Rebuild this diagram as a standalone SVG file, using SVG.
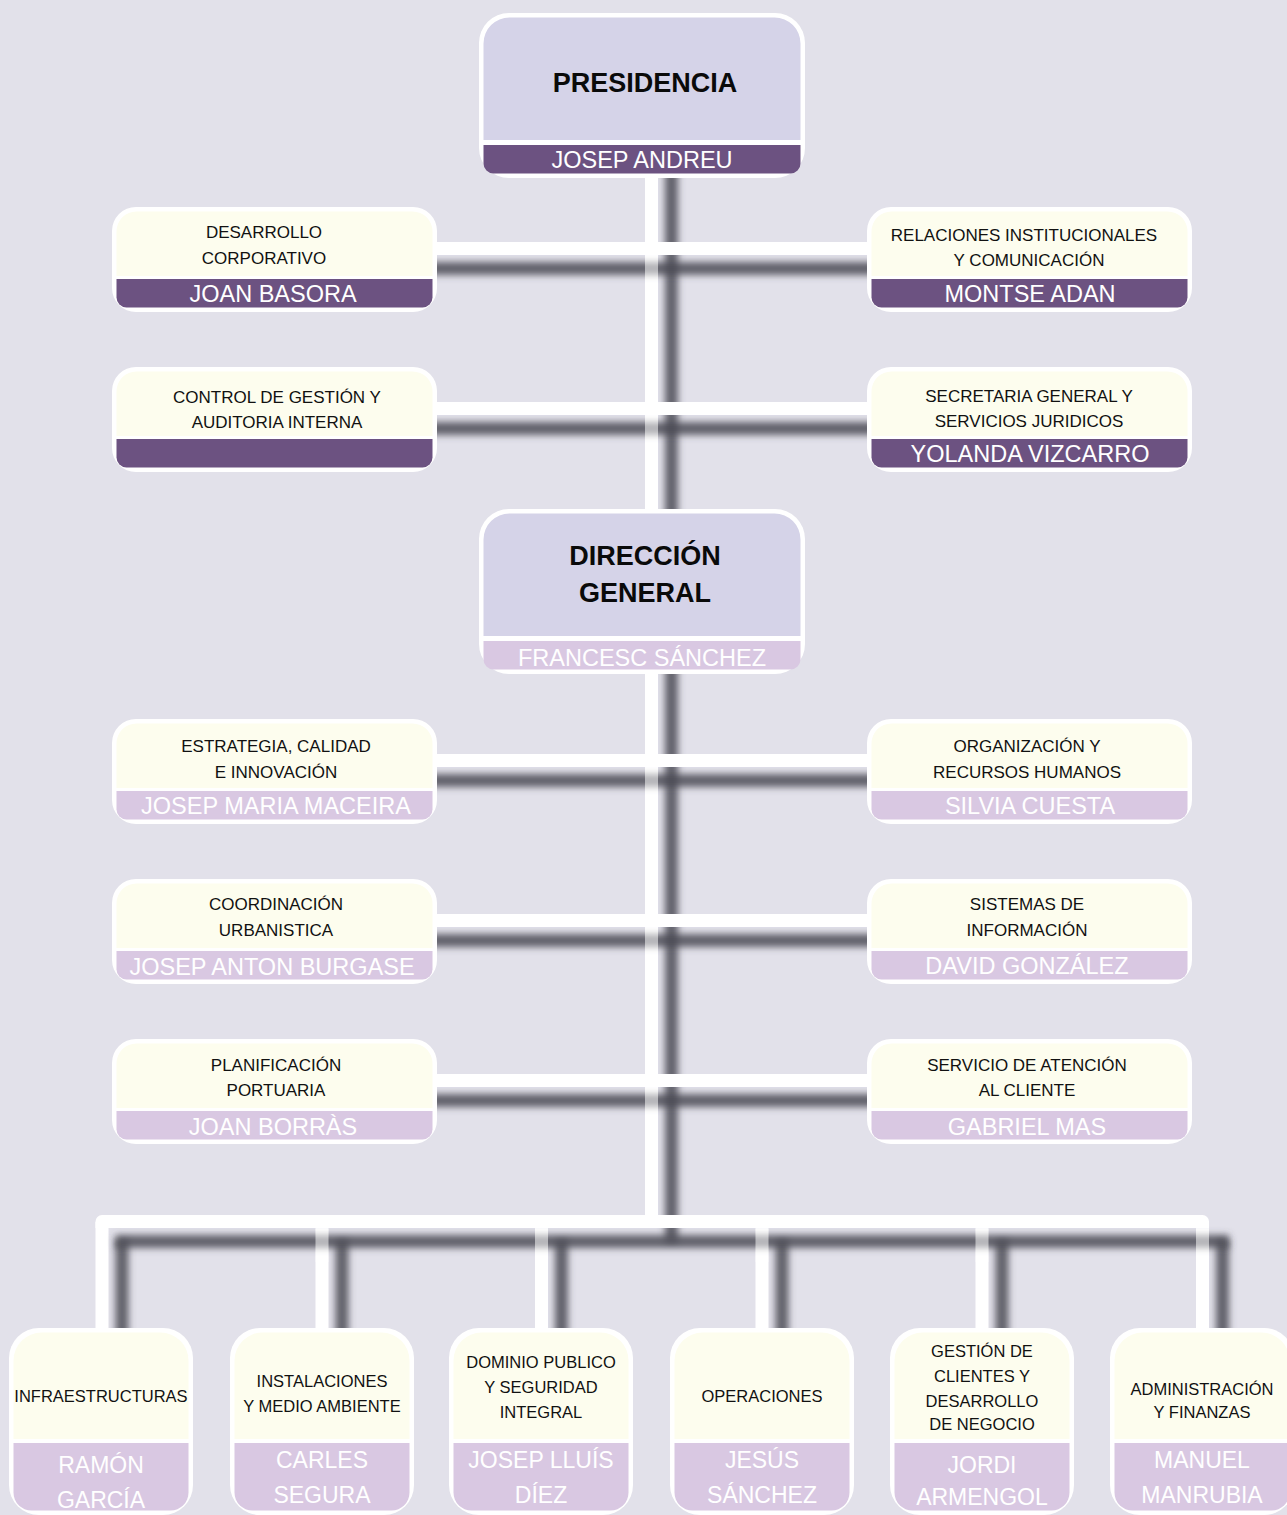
<svg xmlns="http://www.w3.org/2000/svg" width="1287" height="1515" viewBox="0 0 1287 1515">
<style>
text{font-family:"Liberation Sans",Arial,sans-serif;text-anchor:middle}
.l{font-size:17px;fill:#111}
.t{font-size:27px;font-weight:bold;fill:#0a0a0a}
.n{font-size:23.5px;fill:#fff}
.bl{font-size:16.5px;fill:#111}
.bn{font-size:23px;fill:#fff}
.sh{fill:none;stroke:#4a4a53;stroke-opacity:0.85;stroke-width:13;filter:url(#blur)}
.w{fill:none;stroke:#fff;stroke-width:13;stroke-linejoin:round}
.wh{fill:none;stroke:#fff;stroke-width:13;stroke-opacity:0.5}
.top{fill:#d5d3e8}
.cream{fill:#fdfdee}
.dark{fill:#6c5281}
.light{fill:#d9c8e2}
.frame{fill:#fff}
</style>
<defs>
<filter id="blur" filterUnits="userSpaceOnUse" x="0" y="0" width="1287" height="1515"><feGaussianBlur stdDeviation="3.5"/></filter>
<rect id="so" width="325" height="105" rx="24"/>
<path id="st" d="M4.5,69 V24.5 A20,20 0 0 1 24.5,4.5 H300.5 A20,20 0 0 1 320.5,24.5 V69 Z"/>
<path id="sb" d="M4.5,72 H320.5 V90.5 A10,10 0 0 1 310.5,100.5 H14.5 A10,10 0 0 1 4.5,90.5 Z"/>
<rect id="to" width="326" height="165" rx="30"/>
<path id="tt" d="M4.5,127 V30.5 A26,26 0 0 1 30.5,4.5 H295.5 A26,26 0 0 1 321.5,30.5 V127 Z"/>
<path id="tb" d="M4.5,132 H321.5 V150.5 A10,10 0 0 1 311.5,160.5 H14.5 A10,10 0 0 1 4.5,150.5 Z"/>
<rect id="bo" width="184" height="187" rx="30"/>
<path id="bt" d="M4.5,111 V32.5 A28,28 0 0 1 32.5,4.5 H151.5 A28,28 0 0 1 179.5,32.5 V111 Z"/>
<path id="bb" d="M4.5,115 H179.5 V164.5 A18,18 0 0 1 161.5,182.5 H22.5 A18,18 0 0 1 4.5,164.5 Z"/>
</defs>
<rect width="1287" height="1515" fill="#e2e1ea"/>
<g id="connectors">
<path class="sh" d="M671.5,170 V1242"/>
<path class="w" d="M651.5,170 V1222"/>
<path class="sh" d="M420,268.5 H887 M420,428.5 H887 M420,780.5 H887 M420,940.5 H887 M420,1100.5 H887"/>
<path class="wh" d="M651.5,240 V1222"/>
<path class="w" d="M436,248.5 H867 M436,408.5 H867 M436,760.5 H867 M436,920.5 H867 M436,1080.5 H867"/>
<path class="sh" d="M122,1240 V1340 M342,1240 V1340 M561.5,1240 V1340 M782,1240 V1340 M1002,1240 V1340 M1222.5,1240 V1340"/>
<path class="w" d="M102,1222 V1332 M322,1222 V1332 M541.5,1222 V1332 M762,1222 V1332 M982,1222 V1332 M1202.5,1222 V1332"/>
<path class="sh" d="M122,1248 V1241.5 H1222.5 V1248"/>
<path class="wh" d="M322,1229 V1262 M541.5,1229 V1262 M762,1229 V1262 M982,1229 V1262 M1202.5,1229 V1262"/>
<path class="w" d="M102,1228 V1221.5 H1202.5 V1228"/>
</g>
<g id="presidencia">
<use href="#to" x="479" y="13" class="frame"/>
<use href="#tt" x="479" y="13" class="top"/>
<use href="#tb" x="479" y="13" class="dark"/>
<text class="t" x="645" y="92">PRESIDENCIA</text>
<text class="n" x="642" y="168">JOSEP ANDREU</text>
</g>
<g id="desarrollo-corporativo">
<use href="#so" x="112" y="207" class="frame"/>
<use href="#st" x="112" y="207" class="cream"/>
<use href="#sb" x="112" y="207" class="dark"/>
<text class="l" x="264" y="238">DESARROLLO</text>
<text class="l" x="264" y="264">CORPORATIVO</text>
<text class="n" x="273" y="302">JOAN BASORA</text>
</g>
<g id="relaciones-institucionales">
<use href="#so" x="867" y="207" class="frame"/>
<use href="#st" x="867" y="207" class="cream"/>
<use href="#sb" x="867" y="207" class="dark"/>
<text class="l" x="1024" y="241">RELACIONES INSTITUCIONALES</text>
<text class="l" x="1029" y="266">Y COMUNICACIÓN</text>
<text class="n" x="1030" y="302">MONTSE ADAN</text>
</g>
<g id="control-gestion">
<use href="#so" x="112" y="367" class="frame"/>
<use href="#st" x="112" y="367" class="cream"/>
<use href="#sb" x="112" y="367" class="dark"/>
<text class="l" x="277" y="403">CONTROL DE GESTIÓN Y</text>
<text class="l" x="277" y="428">AUDITORIA INTERNA</text>
</g>
<g id="secretaria-general">
<use href="#so" x="867" y="367" class="frame"/>
<use href="#st" x="867" y="367" class="cream"/>
<use href="#sb" x="867" y="367" class="dark"/>
<text class="l" x="1029" y="402">SECRETARIA GENERAL Y</text>
<text class="l" x="1029" y="427">SERVICIOS JURIDICOS</text>
<text class="n" x="1030" y="462">YOLANDA VIZCARRO</text>
</g>
<g id="direccion-general">
<use href="#to" x="479" y="509" class="frame"/>
<use href="#tt" x="479" y="509" class="top"/>
<use href="#tb" x="479" y="509" class="light"/>
<text class="t" x="645" y="565">DIRECCIÓN</text>
<text class="t" x="645" y="602">GENERAL</text>
<text class="n" x="642" y="666">FRANCESC SÁNCHEZ</text>
</g>
<g id="estrategia">
<use href="#so" x="112" y="719" class="frame"/>
<use href="#st" x="112" y="719" class="cream"/>
<use href="#sb" x="112" y="719" class="light"/>
<text class="l" x="276" y="752">ESTRATEGIA, CALIDAD</text>
<text class="l" x="276" y="778">E INNOVACIÓN</text>
<text class="n" x="276" y="814">JOSEP MARIA MACEIRA</text>
</g>
<g id="organizacion">
<use href="#so" x="867" y="719" class="frame"/>
<use href="#st" x="867" y="719" class="cream"/>
<use href="#sb" x="867" y="719" class="light"/>
<text class="l" x="1027" y="752">ORGANIZACIÓN Y</text>
<text class="l" x="1027" y="778">RECURSOS HUMANOS</text>
<text class="n" x="1030" y="814">SILVIA CUESTA</text>
</g>
<g id="coordinacion">
<use href="#so" x="112" y="879" class="frame"/>
<use href="#st" x="112" y="879" class="cream"/>
<use href="#sb" x="112" y="879" class="light"/>
<text class="l" x="276" y="910">COORDINACIÓN</text>
<text class="l" x="276" y="936">URBANISTICA</text>
<text class="n" x="272" y="975">JOSEP ANTON BURGASE</text>
</g>
<g id="sistemas">
<use href="#so" x="867" y="879" class="frame"/>
<use href="#st" x="867" y="879" class="cream"/>
<use href="#sb" x="867" y="879" class="light"/>
<text class="l" x="1027" y="910">SISTEMAS DE</text>
<text class="l" x="1027" y="936">INFORMACIÓN</text>
<text class="n" x="1027" y="974">DAVID GONZÁLEZ</text>
</g>
<g id="planificacion">
<use href="#so" x="112" y="1039" class="frame"/>
<use href="#st" x="112" y="1039" class="cream"/>
<use href="#sb" x="112" y="1039" class="light"/>
<text class="l" x="276" y="1071">PLANIFICACIÓN</text>
<text class="l" x="276" y="1096">PORTUARIA</text>
<text class="n" x="273" y="1135">JOAN BORRÀS</text>
</g>
<g id="servicio-atencion">
<use href="#so" x="867" y="1039" class="frame"/>
<use href="#st" x="867" y="1039" class="cream"/>
<use href="#sb" x="867" y="1039" class="light"/>
<text class="l" x="1027" y="1071">SERVICIO DE ATENCIÓN</text>
<text class="l" x="1027" y="1096">AL CLIENTE</text>
<text class="n" x="1027" y="1135">GABRIEL MAS</text>
</g>
<g id="infraestructuras">
<use href="#bo" x="9" y="1328" class="frame"/>
<use href="#bt" x="9" y="1328" class="cream"/>
<use href="#bb" x="9" y="1328" class="light"/>
<text class="bl" x="101" y="1402">INFRAESTRUCTURAS</text>
<text class="bn" x="101" y="1473">RAMÓN</text>
<text class="bn" x="101" y="1508">GARCÍA</text>
</g>
<g id="instalaciones">
<use href="#bo" x="230" y="1328" class="frame"/>
<use href="#bt" x="230" y="1328" class="cream"/>
<use href="#bb" x="230" y="1328" class="light"/>
<text class="bl" x="322" y="1387">INSTALACIONES</text>
<text class="bl" x="322" y="1412">Y MEDIO AMBIENTE</text>
<text class="bn" x="322" y="1468">CARLES</text>
<text class="bn" x="322" y="1503">SEGURA</text>
</g>
<g id="dominio-publico">
<use href="#bo" x="449" y="1328" class="frame"/>
<use href="#bt" x="449" y="1328" class="cream"/>
<use href="#bb" x="449" y="1328" class="light"/>
<text class="bl" x="541" y="1368">DOMINIO PUBLICO</text>
<text class="bl" x="541" y="1393">Y SEGURIDAD</text>
<text class="bl" x="541" y="1418">INTEGRAL</text>
<text class="bn" x="541" y="1468">JOSEP LLUÍS</text>
<text class="bn" x="541" y="1503">DÍEZ</text>
</g>
<g id="operaciones">
<use href="#bo" x="670" y="1328" class="frame"/>
<use href="#bt" x="670" y="1328" class="cream"/>
<use href="#bb" x="670" y="1328" class="light"/>
<text class="bl" x="762" y="1402">OPERACIONES</text>
<text class="bn" x="762" y="1468">JESÚS</text>
<text class="bn" x="762" y="1503">SÁNCHEZ</text>
</g>
<g id="gestion-clientes">
<use href="#bo" x="890" y="1328" class="frame"/>
<use href="#bt" x="890" y="1328" class="cream"/>
<use href="#bb" x="890" y="1328" class="light"/>
<text class="bl" x="982" y="1357">GESTIÓN DE</text>
<text class="bl" x="982" y="1382">CLIENTES Y</text>
<text class="bl" x="982" y="1407">DESARROLLO</text>
<text class="bl" x="982" y="1430">DE NEGOCIO</text>
<text class="bn" x="982" y="1473">JORDI</text>
<text class="bn" x="982" y="1505">ARMENGOL</text>
</g>
<g id="administracion">
<use href="#bo" x="1110" y="1328" class="frame"/>
<use href="#bt" x="1110" y="1328" class="cream"/>
<use href="#bb" x="1110" y="1328" class="light"/>
<text class="bl" x="1202" y="1395">ADMINISTRACIÓN</text>
<text class="bl" x="1202" y="1418">Y FINANZAS</text>
<text class="bn" x="1202" y="1468">MANUEL</text>
<text class="bn" x="1202" y="1503">MANRUBIA</text>
</g>
</svg>
